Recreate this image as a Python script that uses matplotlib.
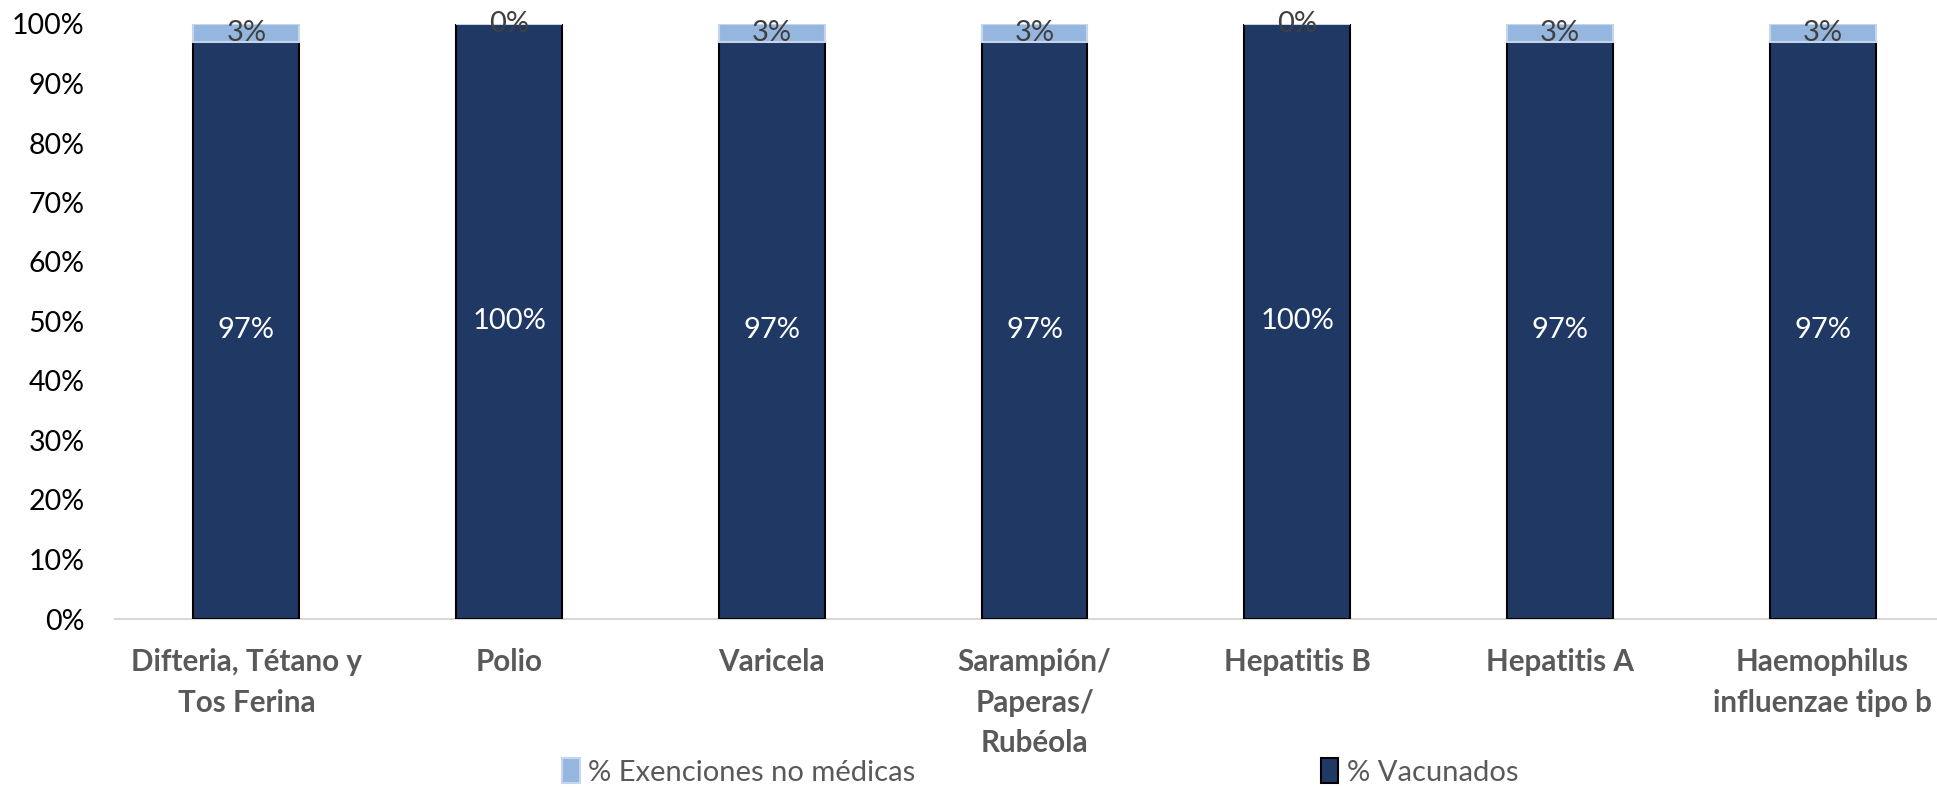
import matplotlib
matplotlib.use("Agg")
import matplotlib.pyplot as plt
import numpy as np

categories = ["Difteria, Tétano y\nTos Ferina", "Polio", "Varicela",
              "Sarampión/\nPaperas/\nRubéola", "Hepatitis B", "Hepatitis A",
              "Haemophilus\ninfluenzae tipo b"]
vacunados = [97, 100, 97, 97, 100, 97, 97]
exenciones = [3, 0, 3, 3, 0, 3, 3]
yticks = [0, 10, 20, 30, 40, 50, 60, 70, 80, 90, 100]

plt.rcParams['font.family'] = ['Lato', 'DejaVu Sans']

W, H = 1937, 787
fig = plt.figure(figsize=(W / 100, H / 100), dpi=100)
ax = fig.add_axes([115 / W, 1 - 619 / H, 1839 / W, 595 / H])

x = np.arange(len(categories))
dark = "#203864"
light = "#95B7DF"
bw = 0.403
b1 = ax.bar(x, vacunados, bw, color=dark, edgecolor="black", linewidth=1.5,
            label="% Vacunados", zorder=3)
b2 = ax.bar(x, exenciones, bw, bottom=vacunados, color=light, edgecolor="#C5D5EC",
            linewidth=1.5, label="% Exenciones no médicas", zorder=3)

ax.bar_label(b1, labels=[f"{v}%" for v in vacunados], label_type="center",
             color="white", fontsize=21)
ax.bar_label(b2, labels=[f"{v}%" for v in exenciones], label_type="center",
             color="#404040", fontsize=21)

ax.set_xlim(-0.5, len(categories) - 0.5)
ax.set_ylim(0, 100)
ax.set_yticks(yticks)
ax.set_yticklabels([f"{t}%" for t in yticks], fontsize=20.5, color="black")
ax.set_xticks(x)
ax.set_xticklabels(categories, fontsize=21.3, fontweight="bold", color="#595959",
                   linespacing=1.55, va="top")
ax.tick_params(axis="y", length=0, pad=22)
ax.tick_params(axis="x", length=0, pad=21)
for s in ["top", "right", "left"]:
    ax.spines[s].set_visible(False)
ax.spines["bottom"].set_color("#D9D9D9")
ax.spines["bottom"].set_linewidth(1.5)

leg = fig.legend(handles=[b2, b1], labels=["% Exenciones no médicas", "% Vacunados"],
                 loc="center left", bbox_to_anchor=(562 / W, 1 - 772 / H), ncol=2,
                 frameon=False, fontsize=21, handlelength=0.6, handleheight=0.9,
                 handletextpad=0.3, columnspacing=13.9, borderpad=0,
                 borderaxespad=0)
for t in leg.get_texts():
    t.set_color("#595959")

fig.savefig("out.png", dpi=100)
